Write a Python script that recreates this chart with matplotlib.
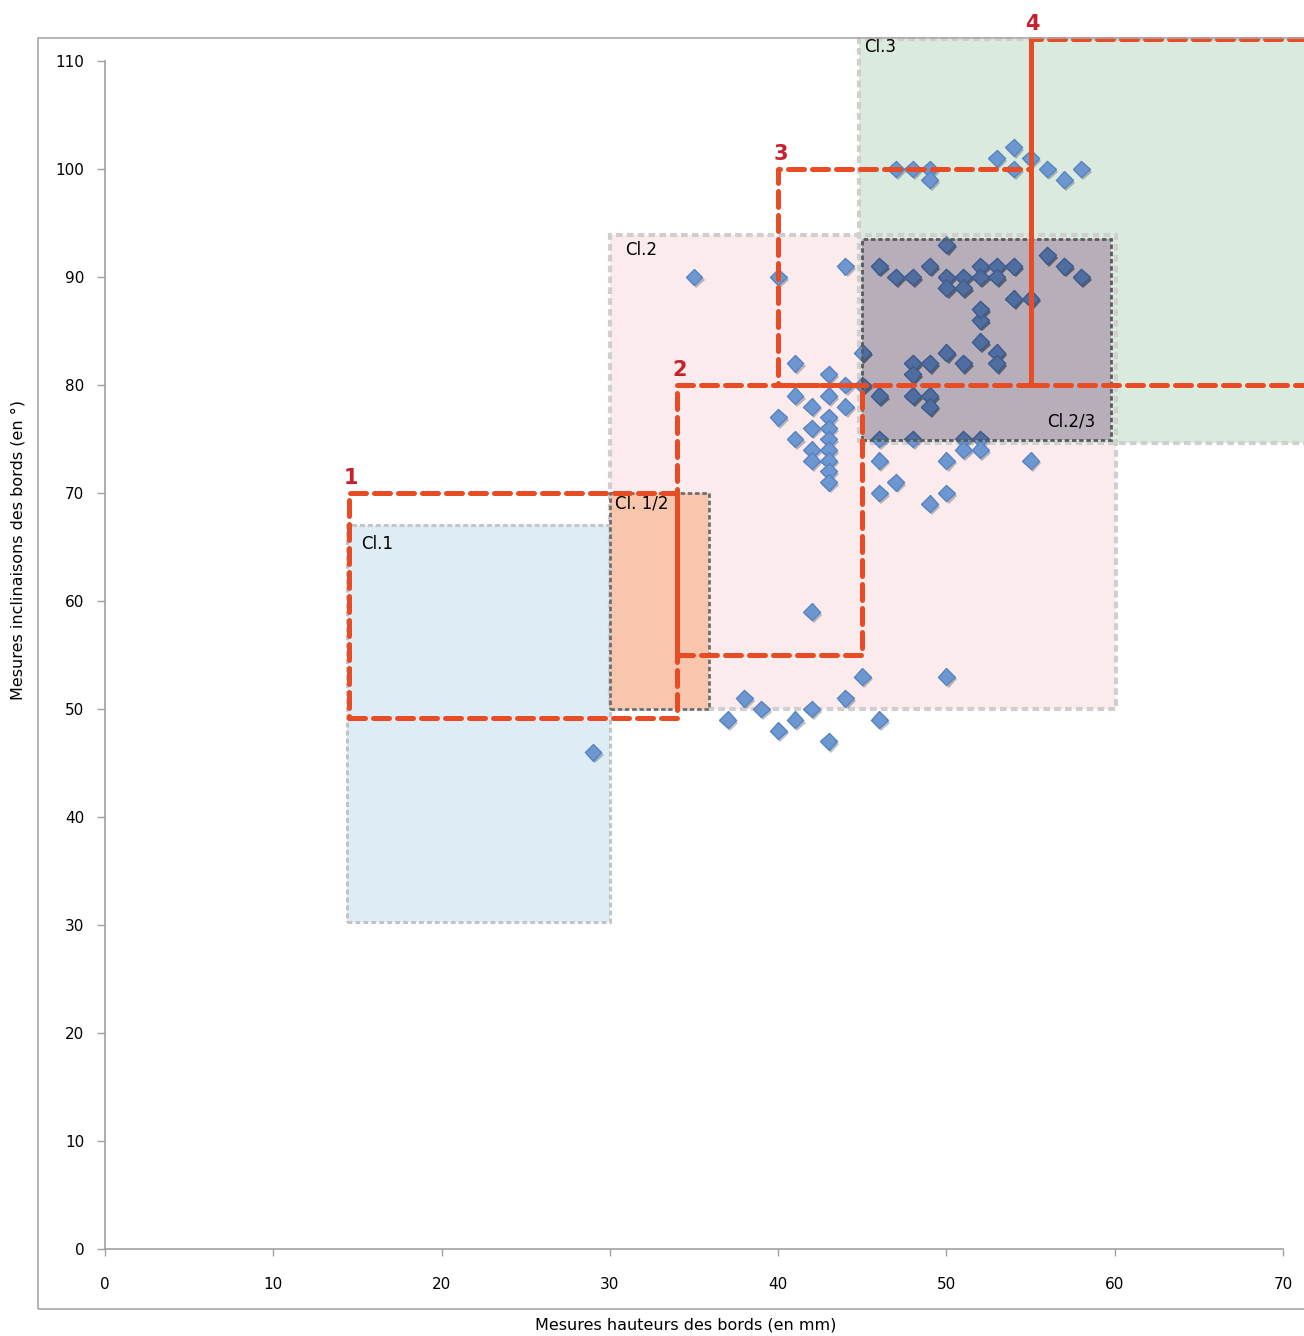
import matplotlib
matplotlib.use("Agg")

import matplotlib.pyplot as plt
import matplotlib.patheffects as pe
from matplotlib.patches import Rectangle

# mesures : hauteur des bords (mm) / inclinaison des bords (deg)
hauteurs = [
    29,
    35, 40, 44,
    41, 43, 44, 45, 45,
    41, 43, 42, 44, 40, 43, 42, 43, 41, 43, 42, 43, 42, 43, 43, 43,
    46, 48, 49, 49, 48, 48, 49, 51, 50, 53, 53, 52, 52, 52, 54, 55,
    46, 48, 51, 52, 51, 52,
    46, 47, 46, 50, 55, 49, 50,
    42,
    45, 50, 38, 44, 39, 42, 37, 41, 46, 40, 43,
    47, 48, 49, 49, 53, 54, 55, 54, 56, 57, 58,
    46, 47, 48, 49, 50, 50, 50, 51, 51, 52, 52, 53, 53, 54, 56, 57, 58,
]
inclinaisons = [
    46,
    90, 90, 91,
    82, 81, 80, 80, 83,
    79, 79, 78, 78, 77, 77, 76, 76, 75, 75, 74, 74, 73, 73, 72, 71,
    79, 79, 79, 78, 82, 81, 82, 82, 83, 83, 82, 84, 86, 87, 88, 88,
    75, 75, 75, 75, 74, 74,
    73, 71, 70, 73, 73, 69, 70,
    59,
    53, 53, 51, 51, 50, 50, 49, 49, 49, 48, 47,
    100, 100, 100, 99, 101, 102, 101, 100, 100, 99, 100,
    91, 90, 90, 91, 93, 90, 89, 90, 89, 91, 90, 91, 90, 91, 92, 91, 90,
]

# zones des classes : (nom, x0, x1, y0, y1)
classes = ["Cl.1", "Cl. 1/2", "Cl.2", "Cl.3", "Cl.2/3"]
classes_x = [(14.4, 30), (30, 35.9), (30, 60.1), (44.8, 75), (45, 59.8)]
classes_y = [(30.3, 67), (50, 70), (50, 93.9), (74.6, 112), (74.9, 93.5)]

# cadres rouges numerotes
cadres = ["1", "2", "3", "4"]
cadres_x = [(14.5, 34), (34, 45), (40, 55), (55, 75)]
cadres_y = [(49.2, 70), (55, 80), (80, 100), (80, 112)]

fig = plt.figure(figsize=(13.04, 13.36), dpi=100)
ax = fig.add_axes([105 / 1304, 1 - 1249 / 1336, 1178 / 1304, 1188 / 1336])

ax.set_xlim(0, 70)
ax.set_ylim(0, 110)

# cadre exterieur du graphique
fig.patches.append(Rectangle((38 / 1304, 1 - 1309 / 1336), 1.0, 1271 / 1336,
                             transform=fig.transFigure, fill=False,
                             edgecolor="#a8a8a8", linewidth=1.2))

styles = {
    "Cl.1": dict(fc="#deecf6", ec="#c4c4c4", lw=2.2, z=1),
    "Cl. 1/2": dict(fc="#f7c6ad", ec="#6e6e6e", lw=2.0, z=2),
    "Cl.2": dict(fc="#fcebec", ec="#cfcfcf", lw=3.0, z=1),
    "Cl.3": dict(fc="#dbeadf", ec="#cfcfcf", lw=3.0, z=1),
    "Cl.2/3": dict(fc="#b8aeba", ec="#5a5a5a", lw=2.0, z=2),
}

zone23 = None
for nom, (x0, x1), (y0, y1) in zip(classes, classes_x, classes_y):
    s = styles[nom]
    r = ax.add_patch(Rectangle((x0, y0), x1 - x0, y1 - y0, facecolor=s["fc"],
                               edgecolor="none", zorder=s["z"], clip_on=False))
    bz = 4 if nom == "Cl.2/3" else s["z"] + 0.1
    ax.add_patch(Rectangle((x0, y0), x1 - x0, y1 - y0, fill=False,
                           edgecolor=s["ec"], linewidth=s["lw"],
                           linestyle=(0, (1.6, 1.0)), zorder=bz,
                           clip_on=False))
    if nom == "Cl.2/3":
        zone23 = r

# positions des etiquettes de classes
ax.text(15.2, 65.3, "Cl.1", fontsize=12, va="center", zorder=6)
ax.text(30.3, 69.0, "Cl. 1/2", fontsize=12, va="center", zorder=6)
ax.text(30.9, 92.5, "Cl.2", fontsize=12, va="center", zorder=6)
ax.text(45.1, 111.3, "Cl.3", fontsize=12, va="center", zorder=6, clip_on=False)
ax.text(56.0, 76.6, "Cl.2/3", fontsize=12, va="center", zorder=6)

ax.plot(hauteurs, inclinaisons, linestyle="none", marker="D", markersize=8.6,
        markerfacecolor="#6d97d0", markeredgecolor="#5784c0", markeredgewidth=1.0,
        zorder=3,
        path_effects=[pe.SimplePatchShadow(offset=(1.5, -2), alpha=0.3), pe.Normal()])

# memes points, assombris sous la zone Cl.2/3
sombre = ax.plot(hauteurs, inclinaisons, linestyle="none", marker="D", markersize=8.6,
                 markerfacecolor="#4f6d9f", markeredgecolor="#405c8c",
                 markeredgewidth=1.0, zorder=3.5,
                 path_effects=[pe.SimplePatchShadow(offset=(1.5, -2), alpha=0.4), pe.Normal()])[0]
sombre.set_clip_path(zone23)

rouge = "#e84c24"
for num, (x0, x1), (y0, y1) in zip(cadres, cadres_x, cadres_y):
    ax.add_patch(Rectangle((x0, y0), x1 - x0, y1 - y0, fill=False,
                           edgecolor=rouge, linewidth=3.6,
                           linestyle=(0, (3.2, 1.6)), capstyle="round",
                           joinstyle="round", zorder=7, clip_on=False))
    ax.text(x0 - 0.3, y1 + 0.5, num, color="#c5202c", fontsize=15,
            fontweight="bold", ha="left", va="bottom", zorder=8, clip_on=False)

# trait plein du cadre 4
ax.plot([55, 55], [88, 112], color=rouge, linewidth=3.6, zorder=7,
        solid_capstyle="butt", clip_on=False)

for side in ["top", "right"]:
    ax.spines[side].set_visible(False)
for side in ["left", "bottom"]:
    ax.spines[side].set_color("#a0a0a0")
    ax.spines[side].set_linewidth(1.2)

ax.set_xticks(range(0, 71, 10))
ax.set_yticks(range(0, 111, 10))
ax.tick_params(axis="x", direction="out", length=5, width=1.0, color="#a0a0a0",
               labelsize=11, pad=15)
ax.tick_params(axis="y", direction="out", length=6, width=1.0, color="#a0a0a0",
               labelsize=11, pad=9)
ax.set_facecolor("none")

fig.text(686 / 1304, 1 - 1325 / 1336, "Mesures hauteurs des bords (en mm)",
         ha="center", va="center", fontsize=11.5)
fig.text(18 / 1304, 1 - 550 / 1336, "Mesures inclinaisons des bords (en °)",
         ha="center", va="center", rotation=90, fontsize=11.5)

fig.savefig("out.png", dpi=100)
plt.close(fig)
